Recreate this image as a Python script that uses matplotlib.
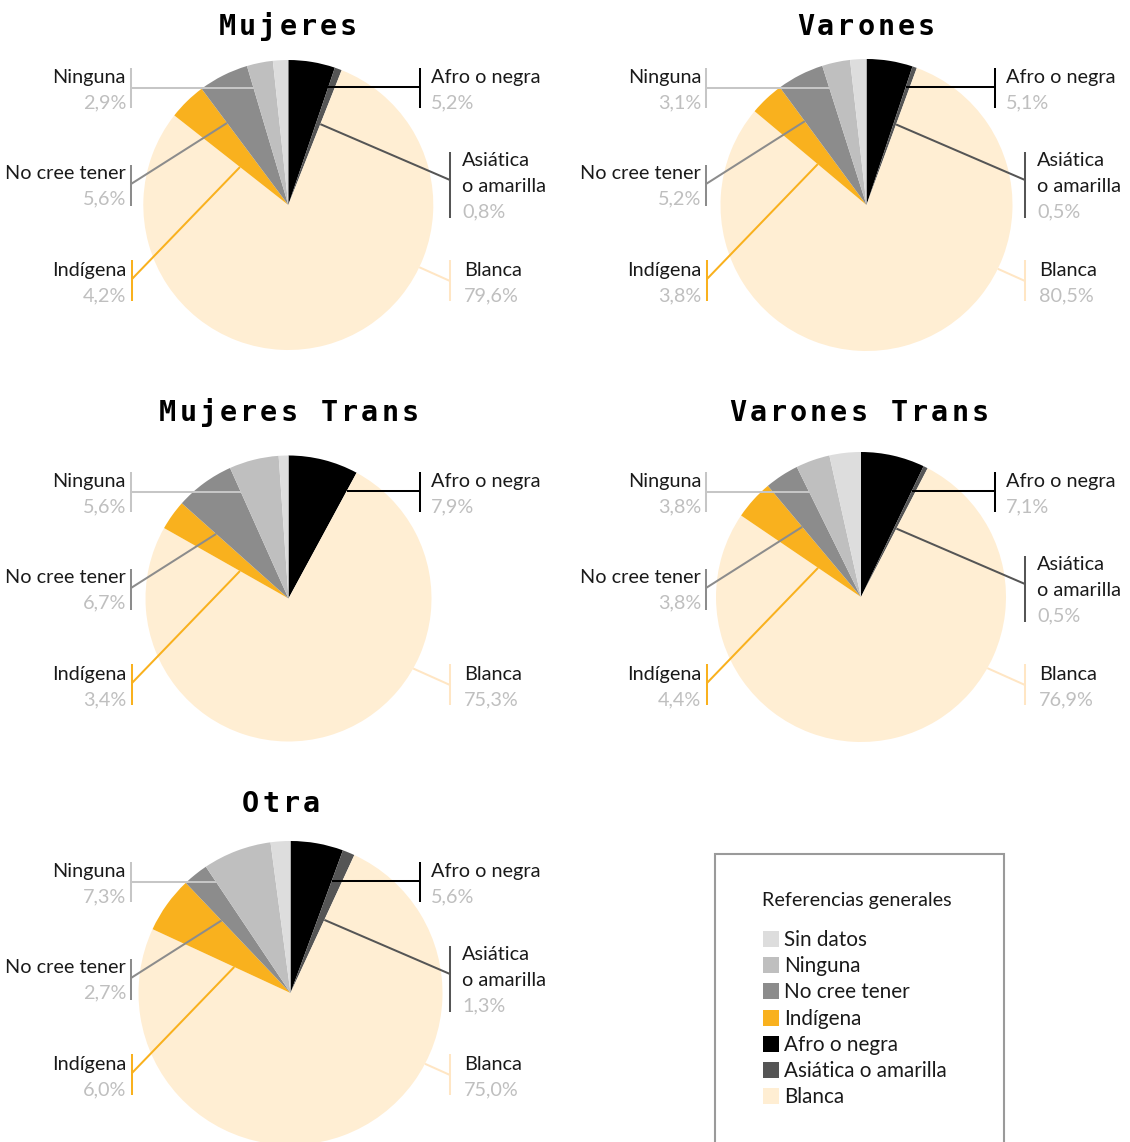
import numpy as np
import matplotlib
matplotlib.use('Agg')
import matplotlib.pyplot as plt
from matplotlib.patches import Rectangle

W, H = 1130, 1142
DPI = 100

# ---------------- data ----------------
categories = ['Afro o negra', 'Asiática o amarilla', 'Blanca', 'Indígena',
              'No cree tener', 'Ninguna', 'Sin datos']
slice_colors = ['#000000', '#555555', '#FFEED3', '#F9B11E', '#8C8C8C', '#BFBFBF', '#DDDDDD']
line_colors = ['#000000', '#555555', '#FFE6C4', '#F9B11E', '#8C8C8C', '#C6C6C6', '#DDDDDD']

panel_titles = ['Mujeres', 'Varones', 'Mujeres Trans', 'Varones Trans', 'Otra']
mujeres = [5.2, 0.8, 79.6, 4.2, 5.6, 2.9, 1.7]
varones = [5.1, 0.5, 80.5, 3.8, 5.2, 3.1, 1.8]
mujeres_trans = [7.9, 0.0, 75.3, 3.4, 6.7, 5.6, 1.1]
varones_trans = [7.1, 0.5, 76.9, 4.4, 3.8, 3.8, 3.5]
otra = [5.6, 1.3, 75.0, 6.0, 2.7, 7.3, 2.1]
panel_values = [mujeres, varones, mujeres_trans, varones_trans, otra]

legend_title = 'Referencias generales'
legend_order = ['Sin datos', 'Ninguna', 'No cree tener', 'Indígena',
                'Afro o negra', 'Asiática o amarilla', 'Blanca']
label_names = {'Afro o negra': ['Afro o negra'],
               'Asiática o amarilla': ['Asiática', 'o amarilla'],
               'Blanca': ['Blanca'], 'Indígena': ['Indígena'],
               'No cree tener': ['No cree tener'], 'Ninguna': ['Ninguna']}

# ---------------- layout (pixels, y down) ----------------
panels = [
    dict(tx=288, tb=35, cx=288.3, cy=205, r=145, dx=0, dy=0),
    dict(tx=866, tb=35, cx=866.5, cy=205, r=146, dx=575, dy=0),
    dict(tx=289, tb=421, cx=288.5, cy=598.5, r=143, dx=0, dy=404),
    dict(tx=859, tb=421, cx=861, cy=597, r=145, dx=575, dy=404),
    dict(tx=281, tb=812, cx=290.5, cy=993, r=152, dx=0, dy=794),
]
# template for labels, left column / first row
label_layout = {
    'Ninguna':            dict(side='L', bx=131, by=(68, 108), jy=88, tx=126, base=[83, 108], d=(1, 0)),
    'No cree tener':      dict(side='L', bx=131, by=(165, 206), jy=184, tx=126, base=[179, 204], d=(96, -61)),
    'Indígena':           dict(side='L', bx=132, by=(260, 301), jy=279, tx=126, base=[276, 301], d=(108, -112)),
    'Afro o negra':       dict(side='R', bx=420, by=(68, 108), jy=87, tx=431, base=[83, 108], d=(-1, 0)),
    'Asiática o amarilla': dict(side='R', bx=450, by=(152, 218), jy=180, tx=462, base=[166, 192, 217], d=(-130, -56)),
    'Blanca':             dict(side='R', bx=450, by=(260, 301), jy=281, tx=464, base=[276, 301], d=(-29, -13), edge=True),
}

LW = 1.45
FS = 14.3
BODY = ['Lato', 'DejaVu Sans']
NAME_COL = '#1A1A1A'
PCT_COL = '#BFBFBF'

fig = plt.figure(figsize=(W / DPI, H / DPI), dpi=DPI)
ax = fig.add_axes([0, 0, 1, 1])


def fy(y):
    return H - y


def fmt(v):
    return f"{v:.1f}".replace('.', ',') + '%'


for title, vals, p in zip(panel_titles, panel_values, panels):
    cx, cy, r = p['cx'], p['cy'], p['r']
    ax.pie(vals, colors=slice_colors, startangle=90, counterclock=False,
           radius=r, center=(cx, fy(cy)), frame=True,
           wedgeprops=dict(linewidth=0))
    # title with monospace spacing
    adv = 20.2
    n = len(title)
    for i, ch in enumerate(title):
        ax.text(p['tx'] + (i - (n - 1) / 2) * adv, fy(p['tb']), ch,
                family=['DejaVu Sans Mono'], weight='bold', fontsize=20.5,
                ha='center', va='baseline', color='#000000')
    v = np.array(vals, dtype=float)
    cum = np.concatenate([[0], np.cumsum(v)]) / v.sum() * 360.0
    for k, cat in enumerate(categories):
        if cat not in label_layout or vals[k] <= 0:
            continue
        L = label_layout[cat]
        ox, oy = p['dx'], p['dy']
        bx = L['bx'] + ox
        jy = L['jy'] + oy
        d = np.array(L['d'], dtype=float)
        d = d / np.hypot(*d)
        B = np.array([bx, jy])
        C = np.array([cx, cy])
        if L.get('edge'):
            f = B - C
            bq = 2 * f.dot(d)
            cq = f.dot(f) - r * r
            disc = bq * bq - 4 * cq
            s = (-bq - np.sqrt(disc)) / 2
            A = B + s * d
        else:
            theta = cum[k + 1] if L['side'] == 'R' else cum[k]
            th = np.deg2rad(theta)
            u = np.array([np.sin(th), -np.cos(th)])
            M = np.column_stack([u, -d])
            t, s = np.linalg.solve(M, B - C)
            A = C + t * u
        col = line_colors[k]
        ax.plot([A[0], B[0]], [fy(A[1]), fy(B[1])], color=col, lw=LW,
                solid_capstyle='butt', zorder=3)
        ax.plot([bx, bx], [fy(L['by'][0] + oy), fy(L['by'][1] + oy)], color=col,
                lw=LW, solid_capstyle='butt', zorder=3)
        lines = label_names[cat] + [fmt(vals[k])]
        ha = 'right' if L['side'] == 'L' else 'left'
        for j, (txt, base) in enumerate(zip(lines, L['base'])):
            ax.text(L['tx'] + ox, fy(base + oy), txt, family=BODY, fontsize=FS,
                    ha=ha, va='baseline',
                    color=PCT_COL if j == len(lines) - 1 else NAME_COL)

# ---------------- legend box ----------------
ax.add_patch(Rectangle((715, fy(H + 20)), 1004 - 715, (H + 20) - 854,
                       facecolor='none', edgecolor='#9A9A9A', lw=1.5, zorder=4))
ax.text(762, fy(906), legend_title, family=BODY, fontsize=14.2,
        ha='left', va='baseline', color=NAME_COL)
for i, cat in enumerate(legend_order):
    base = 946 + i * 26.2
    k = categories.index(cat)
    ax.add_patch(Rectangle((763, fy(base + 1)), 16, 16, facecolor=slice_colors[k],
                           edgecolor='none', zorder=4))
    ax.text(784, fy(base), cat, family=BODY, fontsize=14.9, ha='left',
            va='baseline', color=NAME_COL)

ax.set_xlim(0, W)
ax.set_ylim(0, H)
ax.set_aspect('auto')
ax.axis('off')
fig.savefig('out.png', dpi=DPI, facecolor='white')
